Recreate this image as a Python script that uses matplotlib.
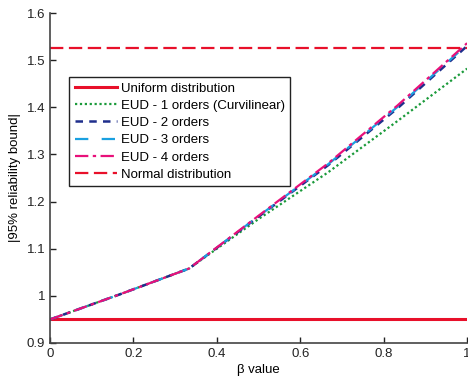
import matplotlib.pyplot as plt

plt.rcParams['font.family'] = ['Liberation Sans', 'DejaVu Sans']

# beta values and bounds
beta = [0, 1/6, 1/3, 0.5, 2/3, 5/6, 1]
eud1 = [0.95, 1.003, 1.058, 1.163, 1.262, 1.371, 1.482]
eud2 = [0.95, 1.003, 1.058, 1.168, 1.277, 1.398, 1.530]
eud3 = [0.95, 1.003, 1.058, 1.169, 1.279, 1.401, 1.533]
eud4 = [0.95, 1.003, 1.058, 1.170, 1.281, 1.404, 1.536]
uniform = 0.95
normal = 1.525

fig = plt.figure(figsize=(4.68, 3.78), dpi=100)
ax = fig.add_axes([0.107, 0.0926, 0.891, 0.873])

ax.plot([0, 1], [uniform, uniform], color='#e8102a', lw=2.2, label='Uniform distribution')
ax.plot(beta, eud1, color='#1a9a3a', lw=1.6, ls=(0, (1, 1.2)), label='EUD - 1 orders (Curvilinear)')
ax.plot(beta, eud2, color='#1f2e8c', lw=1.8, ls=(0, (3, 2.5)), label='EUD - 2 orders')
ax.plot(beta, eud3, color='#1aa0e0', lw=1.6, ls=(0, (6, 6)), label='EUD - 3 orders')
ax.plot(beta, eud4, color='#e8107a', lw=1.6, ls=(0, (6, 2, 1.5, 2)), label='EUD - 4 orders')
ax.plot([0, 1], [normal, normal], color='#e8102a', lw=1.6, ls=(0, (6, 2.5)), label='Normal distribution')

ax.set_xlim(0, 1)
ax.set_ylim(0.9, 1.6)
ax.set_xticks([0, 0.2, 0.4, 0.6, 0.8, 1])
ax.set_xticklabels(['0', '0.2', '0.4', '0.6', '0.8', '1'])
ax.set_yticks([0.9, 1, 1.1, 1.2, 1.3, 1.4, 1.5, 1.6])
ax.set_yticklabels(['0.9', '1', '1.1', '1.2', '1.3', '1.4', '1.5', '1.6'])
ax.tick_params(direction='in', length=4, labelsize=9.5, colors='#222222', width=1)
for side in ['top', 'right']:
    ax.spines[side].set_visible(False)
for side in ['left', 'bottom']:
    ax.spines[side].set_color('#444444')
    ax.spines[side].set_linewidth(1.2)

ax.set_xlabel('β value', fontsize=9.5, labelpad=3)
ax.set_ylabel('|95% reliability bound|', fontsize=9.5, labelpad=4)

leg = ax.legend(loc='upper left', bbox_to_anchor=(0.046, 0.806), fontsize=9.5,
                frameon=True, fancybox=False, edgecolor='#222222', framealpha=1,
                handlelength=3.2, handletextpad=0.3, labelspacing=0.38,
                borderpad=0.4, borderaxespad=0)
leg.get_frame().set_linewidth(1.0)

fig.savefig('out.png', dpi=100)
